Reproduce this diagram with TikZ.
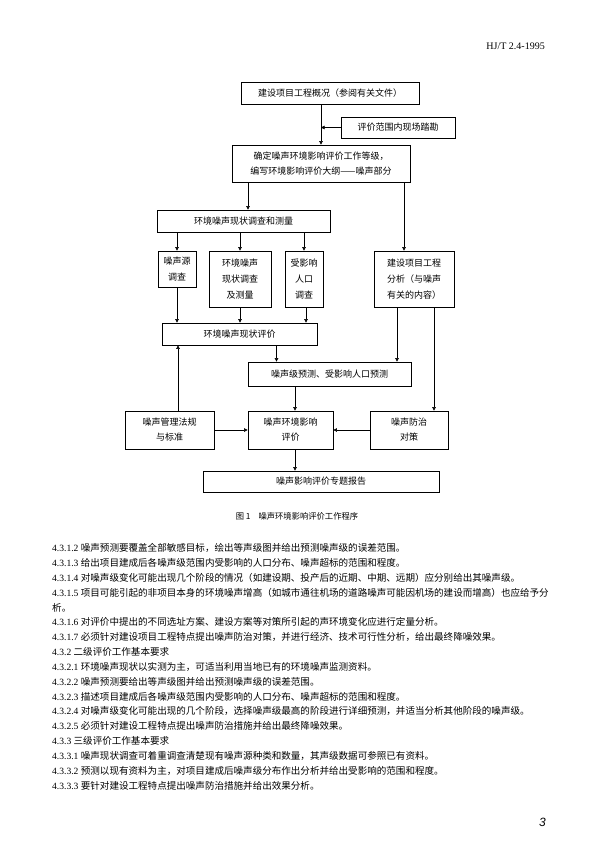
\documentclass[tikz,border=0pt]{standalone}
\usepackage{fontspec}
\setmainfont{Liberation Serif}
\newfontfamily\cjk{Noto Sans CJK SC}
\newfontfamily\pgsans{Liberation Sans}
\usetikzlibrary{arrows.meta,positioning}

\begin{document}
\begin{tikzpicture}[
  x=1pt,y=-1pt,
  box/.style={draw,line width=0.7pt,align=center,inner sep=0pt,
              font=\cjk\fontsize{9}{16}\selectfont},
  ar/.style={-{Triangle[length=3.5pt,width=3.5pt]},line width=0.5pt},
  body/.style={anchor=west,inner sep=0pt,font=\fontsize{9.55}{12}\selectfont},
]
\useasboundingbox (0,0) rectangle (595,841);

% header and page number
\node[anchor=east,inner sep=0pt,font=\fontsize{10}{12}\selectfont] (hdr) at (545,46) {HJ/T 2.4-1995};
\node[anchor=east,inner sep=0pt,font=\pgsans\itshape\fontsize{12}{14}\selectfont] (pno) at (546,822) {3};

% flow chart
\node[box,minimum width=178pt,minimum height=22pt] (gk) at (330,93) {建设项目工程概况（参阅有关文件）};
\node[box,minimum width=114pt,minimum height=21pt] (tk) at (398,127.5) {评价范围内现场踏勘};
\node[box,minimum width=178pt,minimum height=37pt,font=\cjk\fontsize{9}{15}\selectfont] (dj) at (321,163.5)
  {确定噪声环境影响评价工作等级，\\编写环境影响评价大纲——噪声部分};
\node[box,minimum width=173pt,minimum height=22pt] (xz) at (243.5,221) {环境噪声现状调查和测量};
\node[box,minimum width=38pt,minimum height=36pt] (ys) at (177,269) {噪声源\\调查};
\node[box,minimum width=62pt,minimum height=56pt] (cl) at (240,279) {环境噪声\\现状调查\\及测量};
\node[box,minimum width=38pt,minimum height=56pt] (rk) at (304,279) {受影响\\人口\\调查};
\node[box,minimum width=80pt,minimum height=56pt] (fx) at (414,279) {建设项目工程\\分析（与噪声\\有关的内容）};
\node[box,minimum width=155pt,minimum height=22pt] (pj) at (239.5,334) {环境噪声现状评价};
\node[box,minimum width=163pt,minimum height=24pt] (yc) at (329.5,374) {噪声级预测、受影响人口预测};
\node[box,minimum width=89pt,minimum height=38pt,font=\cjk\fontsize{9}{15}\selectfont] (fg) at (169.5,430) {噪声管理法规\\与标准};
\node[box,minimum width=85pt,minimum height=38pt,font=\cjk\fontsize{9}{15}\selectfont] (yx) at (290.5,430) {噪声环境影响\\评价};
\node[box,minimum width=78pt,minimum height=38pt,font=\cjk\fontsize{9}{15}\selectfont] (dc) at (409,430) {噪声防治\\对策};
\node[box,minimum width=236pt,minimum height=21pt] (bg) at (321,481.5) {噪声影响评价专题报告};

\draw[ar] (dj.north |- gk.south) -- (dj.north);
\draw[ar] (tk.west) -- (tk.west -| dj.north);
\draw[ar] ([xshift=4.5pt]xz.north |- dj.south) -- ([xshift=4.5pt]xz.north);
\draw[ar] ([xshift=-10pt]fx.north |- dj.south) -- ([xshift=-10pt]fx.north);
\draw[ar] (ys.north |- xz.south) -- (ys.north);
\draw[ar] (cl.north |- xz.south) -- (cl.north);
\draw[ar] (rk.north |- xz.south) -- (rk.north);
\draw[ar] (ys.south) -- (ys.south |- pj.north);
\draw[ar] (cl.south) -- (cl.south |- pj.north);
\draw[ar] ([xshift=2pt]rk.south) -- ([xshift=2pt]rk.south |- pj.north);
\draw[ar] ([xshift=37pt]pj.south) -- ([xshift=37pt]pj.south |- yc.north);
\draw[ar] ([xshift=-17pt]fx.south) -- ([xshift=-17pt]fx.south |- yc.north);
\draw[ar] ([xshift=20pt]fx.south) -- ([xshift=20pt]fx.south |- dc.north);
\draw[ar] ([xshift=4.5pt]yx.north |- yc.south) -- ([xshift=4.5pt]yx.north);
\draw[ar] ([xshift=8.5pt]fg.north) -- ([xshift=8.5pt]fg.north |- pj.south);
\draw[ar] (fg.east) -- (yx.west);
\draw[ar] (dc.west) -- (yx.east);
\draw[ar] ([xshift=4.5pt]yx.south) -- ([xshift=4.5pt]yx.south |- bg.north);

\node[inner sep=0pt,font=\cjk\fontsize{8.3}{10}\selectfont] (cap) at (297,516) {图 1\hspace{8pt}噪声环境影响评价工作程序};

% text below the figure
\foreach \y/\num/\txt [count=\i] in {
  548/4.3.1.2/噪声预测要覆盖全部敏感目标，绘出等声级图并给出预测噪声级的误差范围。,
  562.9/4.3.1.3/给出项目建成后各噪声级范围内受影响的人口分布、噪声超标的范围和程度。,
  577.7/4.3.1.4/对噪声级变化可能出现几个阶段的情况（如建设期、投产后的近期、中期、远期）应分别给出其噪声级。,
  592.6/4.3.1.5/项目可能引起的非项目本身的环境噪声增高（如城市通往机场的道路噪声可能因机场的建设而增高）也应给予分,
  622.3/4.3.1.6/对评价中提出的不同选址方案、建设方案等对策所引起的声环境变化应进行定量分析。,
  637.1/4.3.1.7/必须针对建设项目工程特点提出噪声防治对策，并进行经济、技术可行性分析，给出最终降噪效果。,
  652/4.3.2/二级评价工作基本要求,
  666.8/4.3.2.1/环境噪声现状以实测为主，可适当利用当地已有的环境噪声监测资料。,
  681.7/4.3.2.2/噪声预测要给出等声级图并给出预测噪声级的误差范围。,
  696.5/4.3.2.3/描述项目建成后各噪声级范围内受影响的人口分布、噪声超标的范围和程度。,
  711.4/4.3.2.4/对噪声级变化可能出现的几个阶段，选择噪声级最高的阶段进行详细预测，并适当分析其他阶段的噪声级。,
  726.2/4.3.2.5/必须针对建设工程特点提出噪声防治措施并给出最终降噪效果。,
  741.1/4.3.3/三级评价工作基本要求,
  755.9/4.3.3.1/噪声现状调查可着重调查清楚现有噪声源种类和数量，其声级数据可参照已有资料。,
  770.8/4.3.3.2/预测以现有资料为主，对项目建成后噪声级分布作出分析并给出受影响的范围和程度。,
  785.6/4.3.3.3/要针对建设工程特点提出噪声防治措施并给出效果分析。}
  \node[body] (t\i) at (52,\y) {\num\ {\cjk \txt}};
\node[body,font=\cjk\fontsize{9.55}{12}\selectfont] (t0) at (52,607.4) {析。};
\end{tikzpicture}
\end{document}
